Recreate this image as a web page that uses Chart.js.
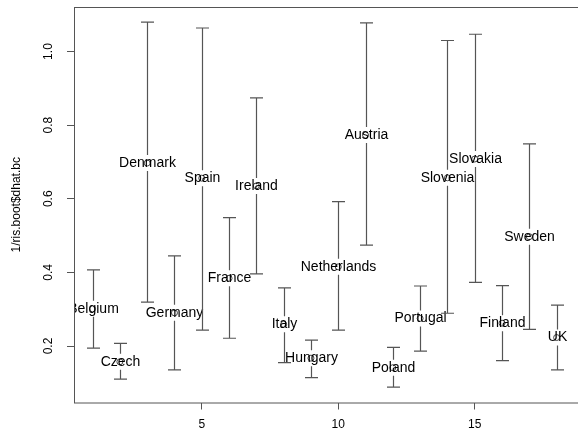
<!DOCTYPE html>
<html>
<head>
<meta charset="utf-8">
<script src="https://cdn.jsdelivr.net/npm/chart.js@4.4.0/dist/chart.umd.min.js"></script>
<style>
  html, body { margin: 0; padding: 0; background: #fff; overflow: hidden; }
</style>
</head>
<body>
<canvas id="grafico" width="578" height="434"></canvas>
<script>
// values
const countries = ['Belgium', 'Czech', 'Denmark', 'Germany', 'Spain', 'France', 'Ireland', 'Italy', 'Hungary',
    'Netherlands', 'Austria', 'Poland', 'Portugal', 'Slovenia', 'Slovakia', 'Finland', 'Sweden', 'UK'];
const estimate = [0.301, 0.157, 0.697, 0.290, 0.656, 0.384, 0.635, 0.259, 0.167,
    0.415, 0.773, 0.141, 0.275, 0.657, 0.708, 0.262, 0.497, 0.223];
const lower = [0.194, 0.110, 0.319, 0.135, 0.243, 0.221, 0.396, 0.155, 0.114,
    0.243, 0.474, 0.088, 0.186, 0.289, 0.373, 0.160, 0.245, 0.135];
const upper = [0.407, 0.207, 1.080, 0.445, 1.064, 0.549, 0.874, 0.358, 0.216,
    0.592, 1.078, 0.196, 0.363, 1.030, 1.047, 0.364, 0.749, 0.311];
const xTicks = [5, 10, 15];
const yTicks = [0.2, 0.4, 0.6, 0.8, 1.0];
const yTitle = '1/ris.boot$dhat.bc';

const fontFamily = '"Liberation Sans", Arial, Helvetica, sans-serif';
const lineColor = '#555';

const errorBars = {
    id: 'errorBars',
    afterDatasetsDraw(chart) {
        const { ctx, chartArea, scales } = chart;
        const x = scales.x, y = scales.y;

        ctx.save();
        ctx.beginPath();
        ctx.rect(chartArea.left, chartArea.top, chartArea.right - chartArea.left, chartArea.bottom - chartArea.top);
        ctx.clip();

        ctx.strokeStyle = lineColor;
        ctx.lineWidth = 1.2;
        const gap = 8;
        const cap = 6.5;

        countries.forEach((name, i) => {
            const px = Math.round(x.getPixelForValue(i + 1)) + 0.5;
            const pu = y.getPixelForValue(upper[i]);
            const pl = y.getPixelForValue(lower[i]);
            const pm = y.getPixelForValue(estimate[i]);

            ctx.beginPath();
            ctx.moveTo(px, pu);
            ctx.lineTo(px, pm - gap);
            ctx.moveTo(px, pm + gap);
            ctx.lineTo(px, pl);
            ctx.moveTo(px - cap, pu);
            ctx.lineTo(px + cap, pu);
            ctx.moveTo(px - cap, pl);
            ctx.lineTo(px + cap, pl);
            ctx.stroke();

            ctx.fillStyle = '#000';
            ctx.font = '14px ' + fontFamily;
            ctx.textAlign = 'center';
            ctx.textBaseline = 'middle';
            ctx.fillText(name, px, pm);
        });
        ctx.restore();

        // box
        ctx.save();
        ctx.strokeStyle = lineColor;
        ctx.lineWidth = 1;
        ctx.strokeRect(chartArea.left + 0.5, chartArea.top + 0.5, chartArea.right - chartArea.left + 10, chartArea.bottom - chartArea.top);

        // y tick labels, rotated like R
        ctx.fillStyle = '#000';
        ctx.font = '12px ' + fontFamily;
        ctx.textAlign = 'center';
        ctx.textBaseline = 'middle';
        yTicks.forEach(v => {
            const py = y.getPixelForValue(v);
            ctx.save();
            ctx.translate(49, py);
            ctx.rotate(-Math.PI / 2);
            ctx.fillText(v.toFixed(1), 0, 0);
            ctx.restore();
        });

        // y title
        ctx.save();
        ctx.translate(17, (chartArea.top + chartArea.bottom) / 2);
        ctx.rotate(-Math.PI / 2);
        ctx.fillText(yTitle, 0, 0);
        ctx.restore();
        ctx.restore();
    }
};

const ctx = document.getElementById('grafico');

const grafico = new Chart(ctx, {
    type: 'scatter',
    data: {
        datasets: [{
            data: countries.map((c, i) => ({ x: i + 1, y: estimate[i] })),
            pointStyle: 'circle',
            pointRadius: 3,
            borderColor: '#444',
            borderWidth: 1,
            backgroundColor: 'rgba(0,0,0,0)'
        }]
    },
    options: {
        responsive: false,
        animation: false,
        events: [],
        layout: { padding: { top: 7, right: 0, left: 0, bottom: 0 } },
        plugins: {
            legend: { display: false },
            tooltip: { enabled: false }
        },
        scales: {
            x: {
                type: 'linear',
                min: 0.32,
                max: 18.6,
                afterBuildTicks: s => { s.ticks = xTicks.map(v => ({ value: v })); },
                afterFit: s => { s.height = 31.5; },
                border: { display: false },
                grid: { drawOnChartArea: false, drawTicks: true, tickLength: 7, color: lineColor },
                ticks: {
                    color: '#000',
                    font: { size: 12, family: fontFamily },
                    padding: 8,
                    maxRotation: 0,
                    callback: v => String(v)
                }
            },
            y: {
                type: 'linear',
                min: 0.0465,
                max: 1.121,
                afterBuildTicks: s => { s.ticks = yTicks.map(v => ({ value: v })); },
                afterFit: s => { s.width = 74; },
                border: { display: false },
                grid: { drawOnChartArea: false, drawTicks: true, tickLength: 7, color: lineColor },
                ticks: { display: false }
            }
        }
    },
    plugins: [errorBars]
});
</script>
</body>
</html>
